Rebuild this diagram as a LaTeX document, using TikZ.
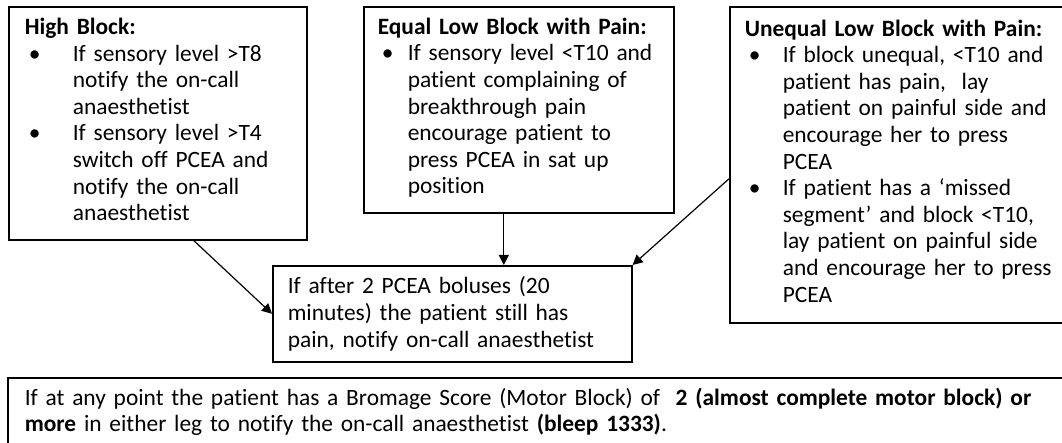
\documentclass[tikz,border=0pt]{standalone}
\usepackage{fontspec}
\setmainfont{Carlito}[Ligatures=NoCommon]
\usetikzlibrary{arrows.meta, positioning}

\newcommand{\bulletpoint}[3]{\makebox[#1][l]{\strut\hspace{2pt}\textbullet}\parbox[t]{#2}{\strut #3\strut}}

\begin{document}
\begin{tikzpicture}[x=0.5pt, y=-0.5pt,
  card/.style={draw, line width=0.8pt, anchor=north west, align=left, inner ysep=0pt,
    font={\fontsize{11.7pt}{13.3pt}\selectfont\lineskip=0pt}},
  flow/.style={line width=0.6pt, -{Triangle[length=5pt, width=5pt]}}]
  % PCEA block management flow chart
  \path[use as bounding box, clip] (0,0) rectangle (1062,443);
  \node[card, inner xsep=8pt, text width=133pt, minimum height=116.5pt] (hb) at (8,6)
    {\textbf{High Block:}\\
     \bulletpoint{24pt}{108pt}{If sensory level >T8\\notify the on-call\\anaesthetist}\\
     \bulletpoint{24pt}{108pt}{If sensory level >T4\\switch off PCEA and\\notify the on-call\\anaesthetist}};
  \node[card, inner xsep=7pt, text width=141pt, minimum height=103pt] (eq) at (363,6)
    {\textbf{Equal Low Block with Pain:}\\
     \bulletpoint{15pt}{125pt}{If sensory level <T10 and\\patient complaining of\\breakthrough pain\\encourage patient to\\press PCEA in sat up\\position}};
  \node[card, inner xsep=7.5pt, text width=158pt, minimum height=158pt] (uq) at (729,6)
    {\textbf{Unequal Low Block with Pain:}\\
     \bulletpoint{19pt}{138pt}{If block unequal, <T10 and\\patient has pain, \ lay\\patient on painful side and\\encourage her to press\\PCEA}\\
     \bulletpoint{19pt}{138pt}{If patient has a ‘missed\\segment’ and block <T10,\\lay patient on painful side\\and encourage her to press\\PCEA}};
  \node[card, inner xsep=7.5pt, text width=164.5pt, minimum height=48pt] (mid) at (272,265)
    {If after 2 PCEA boluses (20\\minutes) the patient still has\\pain, notify on-call anaesthetist};
  \node[card, inner xsep=8.5pt, inner ysep=5pt, text width=517pt] (score) at (7,377)
    {If at any point the patient has a Bromage Score (Motor Block) of \ \textbf{2 (almost complete motor block) or}\\
     \textbf{more} in either leg to notify the on-call anaesthetist \textbf{(bleep 1333)}.};
  \draw[flow] ([xshift=18pt]hb.south) -- (mid.west);
  \draw[flow] ([xshift=-7.5pt]eq.south) -- ([xshift=-7.5pt]eq.south |- mid.north);
  \draw[flow] ([yshift=-7pt]uq.west) -- (mid.north east);
\end{tikzpicture}
\end{document}
